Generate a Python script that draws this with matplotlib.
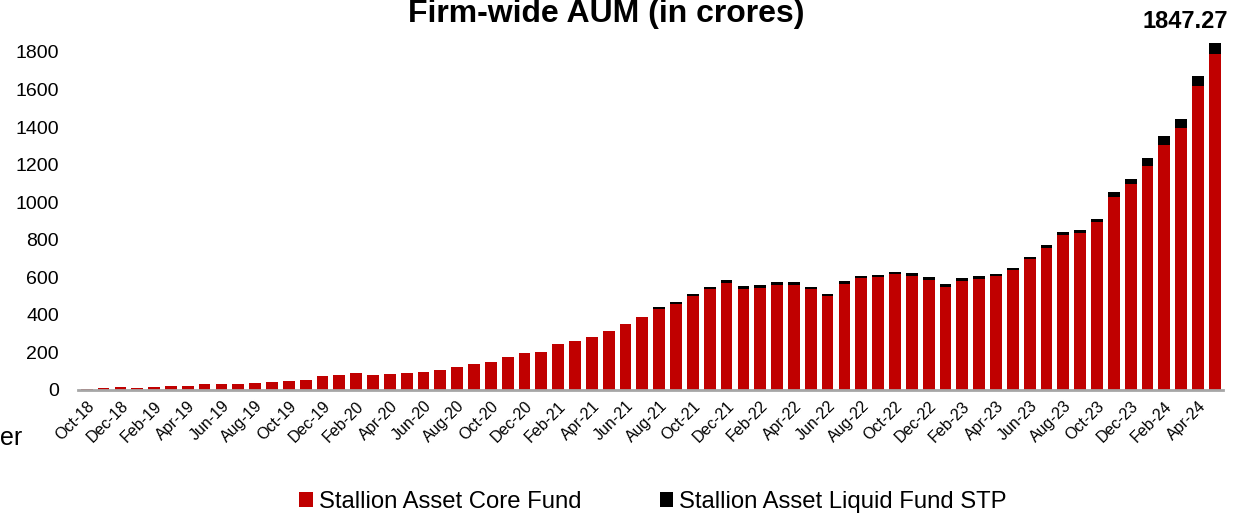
import numpy as np
import pandas as pd
import matplotlib
matplotlib.use("Agg")
import matplotlib.pyplot as plt

plt.rcParams['font.family'] = ['Liberation Sans', 'DejaVu Sans']

# monthly AUM, Oct-18 .. May-24 (in crores)
months = pd.date_range('2018-10-01', periods=68, freq='MS').strftime('%b-%y').tolist()
core_fund = [7, 11, 14, 12, 16, 21, 23, 30, 34, 34, 36, 41, 48, 55, 75, 82, 92, 78, 87, 89,
             96, 108, 123, 141, 151, 174, 199, 204, 247, 259, 284, 313, 350, 387, 430, 458,
             499, 536, 572, 536, 542, 558, 559, 536, 501, 565, 598, 602, 616, 609, 588, 551,
             583, 593, 606, 638, 698, 758, 828, 835, 895, 1030, 1096, 1192, 1307, 1396, 1621, 1790]
liquid_stp = [0] * 34 + [10, 13, 14, 15, 14, 18, 17, 17, 18, 15, 12, 14, 11, 12, 13, 14, 14, 12,
                         14, 13, 12, 10, 11, 13, 14, 16, 18, 23, 28, 44, 48, 48, 52, 57.27]
series_names = ['Stallion Asset Core Fund', 'Stallion Asset Liquid Fund STP']

W, H = 1237, 515
fig = plt.figure(figsize=(W / 100, H / 100), dpi=100)
ax = fig.add_axes([78.3 / W, (H - 390) / H, 1145 / W, 375.6 / H])

x = np.arange(len(months))
ax.bar(x, core_fund, width=0.7, color='#C00000', label=series_names[0], zorder=2)
ax.bar(x, liquid_stp, width=0.7, bottom=core_fund, color='#000000', label=series_names[1], zorder=2)

ax.set_xlim(-0.5, len(months) - 0.5)
ax.set_ylim(0, 2000)
ax.set_yticks(np.arange(0, 2000, 200))
ax.tick_params(axis='y', length=0, labelsize=14, pad=14)
ax.set_xticks(x[::2])
ax.set_xticklabels(months[::2], rotation=45, ha='right', va='top', rotation_mode='anchor', fontsize=11.5)
ax.tick_params(axis='x', length=0, pad=6)

for s in ['top', 'right', 'left']:
    ax.spines[s].set_visible(False)
ax.spines['bottom'].set_color('#a6a6a6')
ax.spines['bottom'].set_linewidth(2)
ax.spines['bottom'].set_zorder(3)

fig.text(0.49, 1 - 22 / H, 'Firm-wide AUM (in crores)', ha='center', va='baseline',
         fontsize=23, fontweight='bold')
total_last = core_fund[-1] + liquid_stp[-1]
fig.text(1228 / W, 1 - 28 / H, f'{total_last:.2f}', ha='right', va='baseline',
         fontsize=17, fontweight='bold')
fig.text(22 / W, 1 - 445 / H, 'er', ha='right', va='baseline', fontsize=18)

fig.legend(loc='center', bbox_to_anchor=(653 / W, 1 - 502 / H), ncol=2, frameon=False,
           fontsize=17.2, handlelength=0.55, handleheight=0.55, handletextpad=0.25,
           columnspacing=3.3, borderpad=0)

fig.savefig('out.png', dpi=100)
